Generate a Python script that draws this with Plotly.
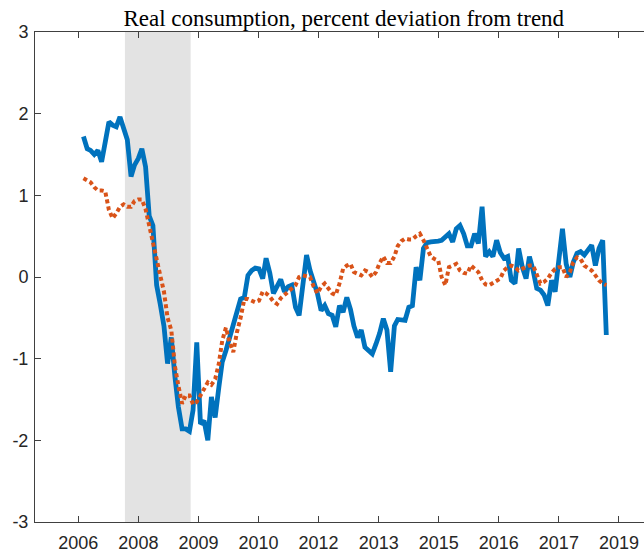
import datetime as dt
import pandas as pd
import plotly.graph_objects as go

# ---- data (monthly, Jan 2007 .. Dec 2018) ----
start_month = "2007-01-01"
actual = [
    1.72, 1.57, 1.55, 1.50, 1.55, 1.41, 1.65, 1.90, 1.86, 1.84,
    1.96, 1.80, 1.68, 1.23, 1.37, 1.45, 1.57, 1.35, 0.75, 0.63,
    -0.10, -0.33, -0.60, -1.06, -0.74, -1.23, -1.59, -1.86, -1.86, -1.89,
    -1.63, -0.80, -1.80, -1.76, -2.00, -1.47, -1.72, -1.35, -1.04, -0.90,
    -0.75, -0.55, -0.40, -0.27, -0.25, 0.02, 0.08, 0.11, 0.10, -0.02,
    0.23, 0.05, -0.20, -0.12, -0.03, -0.18, -0.12, -0.10, -0.37, -0.47,
    -0.08, 0.27, 0.08, -0.05, -0.20, -0.41, -0.35, -0.45, -0.47, -0.61,
    -0.35, -0.43, -0.25, -0.40, -0.60, -0.74, -0.65, -0.86, -0.90, -0.94,
    -0.82, -0.69, -0.51, -0.65, -1.16, -0.60, -0.52, -0.53, -0.53, -0.37,
    -0.35, 0.12, -0.04, 0.35, 0.42, 0.43, 0.43, 0.44, 0.45, 0.49,
    0.53, 0.43, 0.59, 0.63, 0.53, 0.38, 0.38, 0.53, 0.41, 0.86,
    0.25, 0.31, 0.25, 0.45, 0.30, 0.23, 0.25, -0.04, -0.08, 0.35,
    0.12, -0.02, 0.25, 0.08, -0.14, -0.16, -0.22, -0.35, -0.04, -0.18,
    0.25, 0.59, 0.16, 0.00, 0.18, 0.29, 0.31, 0.27, 0.33, 0.39,
    0.14, 0.35, 0.45, -0.71,
]
model = [
    1.21, 1.18, 1.16, 1.10, 1.06, 1.06, 1.05, 0.82, 0.72, 0.78,
    0.86, 0.89, 0.86, 0.86, 0.93, 0.95, 0.95, 0.83, 0.62, 0.40,
    0.22, 0.02, -0.18, -0.50, -0.65, -1.10, -1.33, -1.55, -1.45, -1.45,
    -1.56, -1.53, -1.45, -1.38, -1.29, -1.32, -1.25, -1.06, -0.78, -0.62,
    -0.80, -0.92, -0.68, -0.50, -0.27, -0.27, -0.29, -0.31, -0.29, -0.18,
    -0.20, -0.24, -0.30, -0.33, -0.26, -0.22, -0.17, -0.14, -0.10, 0.00,
    0.02, 0.01, 0.00, -0.12, -0.20, -0.12, -0.08, -0.14, -0.20, -0.22,
    -0.08, 0.10, 0.14, 0.16, 0.06, 0.04, 0.02, 0.08, 0.06, 0.00,
    0.06, 0.17, 0.25, 0.17, 0.17, 0.25, 0.38, 0.44, 0.47, 0.46,
    0.46, 0.50, 0.53, 0.45, 0.35, 0.25, 0.22, 0.20, 0.00, -0.10,
    0.12, 0.14, 0.16, 0.08, 0.05, 0.04, 0.14, 0.10, 0.06, -0.04,
    -0.09, -0.10, -0.07, -0.05, -0.02, 0.08, 0.12, 0.14, 0.12, 0.08,
    0.10, 0.13, 0.14, 0.14, 0.04, -0.08, -0.06, -0.02, 0.05, 0.10,
    0.12, 0.12, 0.00, 0.06, 0.18, 0.24, 0.22, 0.14, 0.11, 0.08,
    0.02, -0.04, -0.08, -0.10,
]
recession = ["2007-12-12", "2009-06-11"]
tick_base = "2006-11-19"       # ticks every 500 days (MATLAB datenum 733000 + k*500)
tick_step_days = 500
tick_labels = ["2006", "2008", "2009", "2010", "2012", "2013", "2015", "2016", "2017", "2019"]
y_ticks = [-3, -2, -1, 0, 1, 2, 3]
title_text = "Real consumption, percent deviation from trend"

dates = pd.date_range(start_month, periods=len(actual), freq="MS")
base = dt.datetime.fromisoformat(tick_base)
tick_vals = [base + dt.timedelta(days=tick_step_days * k) for k in range(len(tick_labels))]
x_range = [base + dt.timedelta(days=-360.4), base + dt.timedelta(days=4708.7)]

fig = go.Figure()
fig.add_shape(type="rect", xref="x", yref="paper", x0=recession[0], x1=recession[1],
              y0=0, y1=1, fillcolor="#E3E3E3", line_width=0, layer="below")
fig.add_trace(go.Scatter(x=dates, y=actual, mode="lines",
                         line=dict(color="#0072BD", width=4.8), showlegend=False))
fig.add_trace(go.Scatter(x=dates, y=model, mode="lines",
                         line=dict(color="#D95319", width=4, dash="4px,3px"), showlegend=False))

axis_col = "#404040"
fig.update_layout(
    width=644, height=555,
    margin=dict(l=35, r=0, t=32, b=33, autoexpand=False),
    paper_bgcolor="white", plot_bgcolor="white",
    font=dict(family="Liberation Sans, Arial, sans-serif", size=18, color="#262626"),
    title=dict(text=title_text, x=0.507, xref="paper", xanchor="center",
               y=1 - 26 / 555, yref="container", yanchor="bottom", automargin=False,
               font=dict(family="Liberation Serif, Times New Roman, serif", size=23, color="#000000")),
    xaxis=dict(type="date", range=x_range, tickvals=tick_vals, ticktext=tick_labels,
               ticks="inside", ticklen=6, tickcolor=axis_col, tickwidth=1, ticklabelstandoff=4,
               showline=True, linecolor=axis_col, linewidth=1, mirror="ticks", automargin=False,
               showgrid=False, zeroline=False, tickfont=dict(size=18, color="#262626")),
    yaxis=dict(range=[-3, 3], tickvals=y_ticks, ticktext=[str(v) for v in y_ticks],
               ticks="inside", ticklen=6, tickcolor=axis_col, tickwidth=1, automargin=False,
               ticklabelstandoff=2,
               showline=True, linecolor=axis_col, linewidth=1,
               showgrid=False, zeroline=False, tickfont=dict(size=18, color="#262626")),
)

fig.write_html("out.html", config={"displayModeBar": False},
               post_script="document.body.style.margin='0';")
